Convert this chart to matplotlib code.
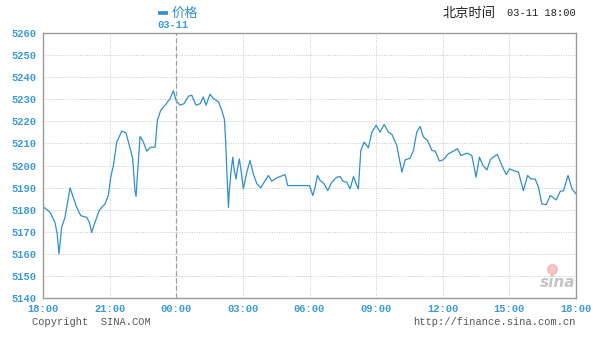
import matplotlib
matplotlib.use('Agg')
import matplotlib.pyplot as plt
from matplotlib.lines import Line2D

# hours after 18:00 (03-10) and price
hours = [0.0, 0.32, 0.54, 0.64, 0.72, 0.84, 0.99, 1.22, 1.36, 1.52, 1.70, 1.97, 2.09, 2.19, 2.34,
         2.54, 2.79, 2.94, 3.05, 3.17, 3.32, 3.55, 3.74, 3.89, 4.04, 4.14, 4.19, 4.25, 4.37, 4.52,
         4.67, 4.85, 5.05, 5.15, 5.30, 5.50, 5.72, 5.87, 5.99, 6.17, 6.35, 6.55, 6.70, 6.89, 7.07,
         7.22, 7.34, 7.52, 7.67, 7.90, 8.05, 8.17, 8.23, 8.27, 8.35, 8.39, 8.47, 8.55, 8.60, 8.69,
         8.77, 8.84, 8.92, 9.02, 9.18, 9.32, 9.47, 9.63, 9.81, 10.0, 10.15, 10.30, 10.53, 10.90,
         11.02, 11.43, 12.0, 12.15, 12.25, 12.36, 12.48, 12.66, 12.82, 13.0, 13.23, 13.38, 13.50,
         13.68, 13.83, 13.98, 14.13, 14.20, 14.31, 14.46, 14.65, 14.81, 15.0, 15.18, 15.36, 15.55,
         15.71, 15.93, 16.16, 16.31, 16.53, 16.68, 16.83, 16.98, 17.13, 17.31, 17.51, 17.66, 17.85,
         18.03, 18.25, 18.48, 18.66, 18.82, 19.09, 19.31, 19.50, 19.65, 19.81, 19.99, 20.14, 20.32,
         20.46, 20.66, 20.86, 21.01, 21.18, 21.41, 21.63, 21.82, 21.97, 22.16, 22.31, 22.46, 22.66,
         22.84, 23.11, 23.29, 23.44, 23.64, 23.82, 24.0]
price = [5181.4, 5178.8, 5174.2, 5169.0, 5160.0, 5172.0, 5176.5, 5189.9, 5185.6, 5181.0, 5177.3,
         5176.5, 5174.2, 5169.7, 5174.2, 5179.9, 5182.6, 5186.4, 5194.7, 5200.0, 5210.6, 5215.6,
         5214.7, 5209.0, 5203.0, 5188.6, 5186.0, 5195.5, 5213.2, 5210.6, 5206.5, 5208.3, 5208.3,
         5220.5, 5225.0, 5227.3, 5230.3, 5233.8, 5229.5, 5227.3, 5228.0, 5231.4, 5231.8, 5227.3,
         5228.0, 5231.0, 5227.3, 5232.3, 5230.3, 5228.8, 5225.0, 5220.8, 5209.9, 5199.2, 5181.0,
         5188.6, 5197.7, 5203.8, 5198.5, 5193.9, 5199.2, 5203.0, 5197.7, 5189.4, 5197.0, 5202.3,
         5196.2, 5191.7, 5189.9, 5193.2, 5195.5, 5192.9, 5194.4, 5195.9, 5190.9, 5190.9, 5190.9,
         5186.4, 5190.2, 5195.5, 5193.2, 5191.7, 5188.6, 5192.4, 5194.7, 5195.0, 5192.9, 5192.4,
         5189.4, 5195.0, 5190.9, 5189.4, 5206.8, 5210.6, 5208.0, 5215.1, 5218.2, 5215.1, 5218.6,
         5215.1, 5214.1, 5209.1, 5197.0, 5202.6, 5203.3, 5206.8, 5215.1, 5217.7, 5212.9, 5211.4,
         5206.8, 5206.5, 5202.0, 5202.6, 5205.3, 5206.5, 5207.6, 5204.5, 5205.6, 5204.5, 5194.7,
         5203.8, 5200.0, 5198.0, 5202.6, 5204.1, 5205.0, 5200.0, 5195.9, 5198.5, 5197.7, 5197.0,
         5188.6, 5195.5, 5193.9, 5193.9, 5190.2, 5182.6, 5182.3, 5186.4, 5184.4, 5188.3, 5188.6,
         5195.5, 5189.4, 5187.1]

x_ticks = [0, 3, 6, 9, 12, 15, 18, 21, 24]
x_labels = ['18:00', '21:00', '00:00', '03:00', '06:00', '09:00', '12:00', '15:00', '18:00']
y_ticks = list(range(5140, 5261, 10))
day_break = 6
day_label = '03-11'

BLUE = '#2f8fcf'
TICK_BLUE = '#3a9ad9'
MONO = 'Liberation Mono'
CJK = ['Noto Sans CJK SC', 'DejaVu Sans']

fig = plt.figure(figsize=(5.96, 3.38), dpi=100)
ax = fig.add_axes([43 / 596, 1 - 298 / 338, 533 / 596, 265 / 338])

ax.plot(hours, price, color=BLUE, linewidth=0.9)

ax.set_xlim(0, 24)
ax.set_ylim(5140, 5260)
ax.set_xticks(x_ticks)
ax.set_xticklabels(x_labels)
ax.set_yticks(y_ticks)
ax.tick_params(axis='y', length=0, pad=5, labelsize=7.5, labelcolor=TICK_BLUE)
ax.tick_params(axis='x', length=0, pad=4, labelsize=7.5, labelcolor=TICK_BLUE)
for lab in ax.get_xticklabels() + ax.get_yticklabels():
    lab.set_family(MONO)
    lab.set_fontweight('bold')

ax.grid(True, color='#c8c8c8', linestyle=(0, (1, 1.5)), linewidth=0.7)
ax.axvline(day_break, color='#a0a0a0', linestyle=(0, (4, 2)), linewidth=0.9)
for s in ax.spines.values():
    s.set_color('#9a9a9a')
    s.set_linewidth(1.0)

# legend / headings
fig.add_artist(Line2D([158 / 596, 168 / 596], [1 - 13 / 338, 1 - 13 / 338],
                      color=BLUE, linewidth=2.6, solid_capstyle='butt'))
fig.text(172 / 596, 1 - 13 / 338, '价格', color=BLUE, fontsize=9.5, family=CJK,
         va='center', ha='left')
fig.text(173 / 596, 1 - 25 / 338, day_label, color=TICK_BLUE, fontsize=7.5, family=MONO,
         fontweight='bold', va='center', ha='center')
fig.text(443 / 596, 1 - 13 / 338, '北京时间', color='#222222', fontsize=9.5, family=CJK,
         va='center', ha='left')
fig.text(576 / 596, 1 - 13 / 338, '03-11 18:00', color='#222222', fontsize=7.5, family=MONO,
         va='center', ha='right')

fig.text(32 / 596, 1 - 322 / 338, 'Copyright  SINA.COM', color='#555555', fontsize=7.5,
         family=MONO, va='center', ha='left')
fig.text(576 / 596, 1 - 322 / 338, 'http://finance.sina.com.cn', color='#555555', fontsize=7.5,
         family=MONO, va='center', ha='right')

# sina watermark
ax.text(0.998, 0.03, 'sina', transform=ax.transAxes, color='#c4c4c4', fontsize=11,
        fontweight='bold', style='italic', ha='right', va='bottom')
ax.plot([0.955], [0.11], marker='o', markersize=7, color='#f0a0a0', alpha=0.6,
        transform=ax.transAxes, clip_on=False)

fig.savefig('out.png', dpi=100)
